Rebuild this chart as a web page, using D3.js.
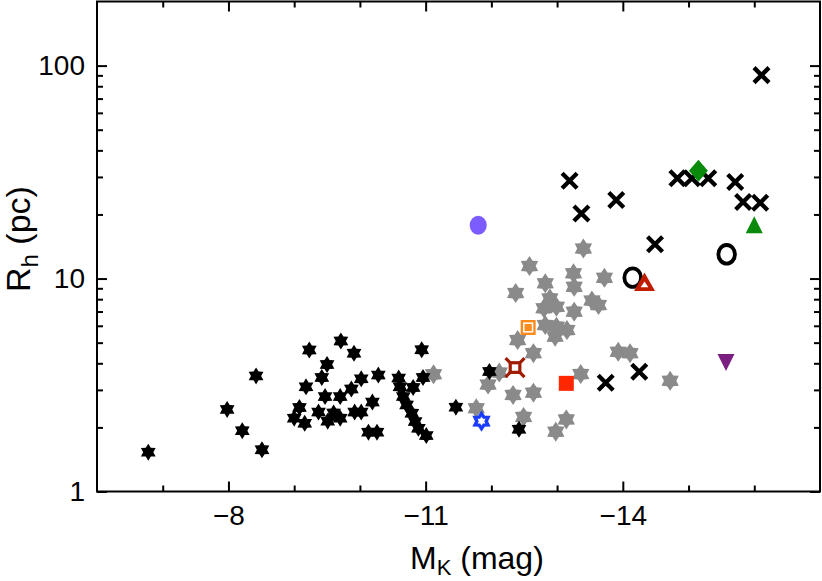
<!DOCTYPE html>
<html>
<head>
<meta charset="utf-8">
<script src="https://cdn.jsdelivr.net/npm/d3@7"></script>
<style>
  body { margin: 0; background: #fff; }
  svg { display: block; font-family: "Liberation Sans", Arial, Helvetica, sans-serif; }
</style>
</head>
<body>
<div id="chart"></div>
<script>
// [M_K (mag), R_h (pc)]
var blackStars = [
  [-6.78,1.53],[-7.98,2.43],[-8.21,1.93],[-8.42,3.49],[-8.51,1.57],[-9.00,2.21],
  [-9.08,2.48],[-9.16,2.09],[-9.18,3.10],[-9.23,4.62],[-9.37,2.36],[-9.42,3.43],
  [-9.50,3.95],[-9.47,2.79],[-9.51,2.14],[-9.60,2.34],[-9.70,2.21],[-9.70,2.79],
  [-9.71,5.09],[-9.87,3.03],[-9.91,4.46],[-9.92,2.36],[-10.02,3.38],[-10.02,2.36],
  [-10.19,2.63],[-10.13,1.90],[-10.26,1.90],[-10.28,3.52],[-10.59,3.41],[-10.61,3.10],
  [-10.66,2.79],[-10.71,2.55],[-10.79,2.33],[-10.81,3.08],[-10.84,2.13],[-10.89,1.98],
  [-10.94,4.63],[-10.96,3.43],[-11.01,1.83],[-11.46,2.49],[-11.97,3.66],[-12.42,1.96]
];
var grayStars = [
  [-11.12,3.55],[-11.77,2.46],[-11.95,3.18],[-12.12,3.62],[-12.33,2.84],[-12.37,8.55],
  [-12.40,5.14],[-12.49,2.24],[-12.58,11.45],[-12.64,4.46],[-12.64,2.91],[-12.80,7.25],
  [-12.82,9.50],[-12.82,6.05],[-12.89,8.07],[-12.97,5.33],[-12.99,7.37],[-12.99,5.94],
  [-12.98,1.91],[-13.14,2.18],[-13.15,5.73],[-13.25,10.58],[-13.26,9.15],[-13.26,6.99],
  [-13.36,3.56],[-13.40,13.83],[-13.53,7.88],[-13.63,7.51],[-13.72,10.08],[-13.93,4.53],
  [-14.11,4.46],[-14.72,3.31]
];
var crosses = [
  [-13.19,28.8],[-13.37,20.2],[-13.90,23.4],[-14.49,14.5],[-14.83,29.6],[-15.05,29.6],
  [-15.30,29.6],[-15.71,28.4],[-15.83,22.9],[-16.09,22.7],[-16.11,90.2],[-13.74,3.24],
  [-14.25,3.65]
];
var openCircles = [[-14.15,10.1],[-15.58,13.0]];
var purpleEllipse = [[-11.80,17.8]];
var orangeSquare = [[-12.56,5.89]];
var brownCrossSquare = [[-12.36,3.82]];
var redSquare = [[-13.14,3.22]];
var blueStar = [[-11.85,2.14]];
var redTriangle = [[-14.33,9.53]];
var greenDiamond = [[-15.15,32.1]];
var greenTriangle = [[-16.00,17.8]];
var purpleDownTriangle = [[-15.57,4.06]];

var xMajor = [-8, -11, -14];
var xMinor = [-7, -9, -10, -12, -13, -15, -16];
var yMajor = [1, 10, 100];
var yMinor = [2,3,4,5,6,7,8,9,20,30,40,50,60,70,80,90];

var cfg = { width: 822, height: 581, left: 97, right: 820, top: 1.5, bottom: 491.5 };

var x = d3.scaleLinear().domain([-6, -17]).range([cfg.left, cfg.right]);
var y = d3.scaleLog().domain([1, 200]).range([cfg.bottom, cfg.top]);

var svg = d3.select("#chart").append("svg")
    .attr("width", cfg.width)
    .attr("height", cfg.height);

function starPath(R, k) {
  var pts = [];
  for (var i = 0; i < 12; i++) {
    var a = (-90 + i * 30) * Math.PI / 180;
    var r = i % 2 === 0 ? R : R * k;
    pts.push([r * Math.cos(a), r * Math.sin(a)]);
  }
  return "M" + pts.map(function (p) { return p[0].toFixed(2) + "," + p[1].toFixed(2); }).join("L") + "Z";
}

function place(d) { return "translate(" + x(d[0]) + "," + y(d[1]) + ")"; }

function drawAxes() {
  var minus = function (d) { return "\u2212" + Math.abs(d); };

  svg.append("g").attr("transform", "translate(0," + cfg.bottom + ")")
      .call(d3.axisBottom(x).tickValues(xMajor).tickSize(-10).tickPadding(14).tickFormat(minus));
  svg.append("g").attr("transform", "translate(0," + cfg.bottom + ")")
      .call(d3.axisBottom(x).tickValues(xMinor).tickSize(-6).tickFormat(""));
  svg.append("g").attr("transform", "translate(0," + cfg.top + ")")
      .call(d3.axisTop(x).tickValues(xMajor).tickSize(-10).tickFormat(""));
  svg.append("g").attr("transform", "translate(0," + cfg.top + ")")
      .call(d3.axisTop(x).tickValues(xMinor).tickSize(-6).tickFormat(""));

  svg.append("g").attr("transform", "translate(" + cfg.left + ",0)")
      .call(d3.axisLeft(y).tickValues(yMajor).tickSize(-10).tickPadding(12).tickFormat(d3.format("d")));
  svg.append("g").attr("transform", "translate(" + cfg.left + ",0)")
      .call(d3.axisLeft(y).tickValues(yMinor).tickSize(-6).tickFormat(""));
  svg.append("g").attr("transform", "translate(" + cfg.right + ",0)")
      .call(d3.axisRight(y).tickValues(yMajor).tickSize(-10).tickFormat(""));
  svg.append("g").attr("transform", "translate(" + cfg.right + ",0)")
      .call(d3.axisRight(y).tickValues(yMinor).tickSize(-6).tickFormat(""));

  svg.selectAll(".domain").remove();
  svg.selectAll(".tick line").attr("stroke", "#000").attr("stroke-width", 2);
  svg.selectAll(".tick text")
      .attr("fill", "#000")
      .style("font-size", "28px")
      .style("font-family", "'Liberation Sans', Arial, sans-serif");

  svg.append("rect")
      .attr("x", cfg.left).attr("y", cfg.top)
      .attr("width", cfg.right - cfg.left).attr("height", cfg.bottom - cfg.top)
      .attr("fill", "none").attr("stroke", "#000").attr("stroke-width", 2);

  var xt = svg.append("text").attr("x", 410).attr("y", 569)
      .style("font-size", "32px").attr("fill", "#000");
  xt.append("tspan").text("M");
  xt.append("tspan").attr("dy", 6).style("font-size", "22px").text("K");
  xt.append("tspan").attr("dy", -6).text(" (mag)");

  var yt = svg.append("text").attr("transform", "translate(30,292) rotate(-90)")
      .style("font-size", "34px").attr("fill", "#000");
  yt.append("tspan").text("R");
  yt.append("tspan").attr("dy", 8).style("font-size", "24px").text("h");
  yt.append("tspan").attr("dy", -8).text(" (pc)");
}

drawAxes();

var marks = svg.append("g");

marks.selectAll(".gray").data(grayStars).enter().append("path")
    .attr("class", "gray")
    .attr("d", starPath(10, 0.62))
    .attr("transform", place)
    .attr("fill", "#8a8a8a");

marks.selectAll(".black").data(blackStars).enter().append("path")
    .attr("class", "black")
    .attr("d", starPath(8.5, 0.6))
    .attr("transform", place)
    .attr("fill", "#000");

marks.selectAll(".cross").data(crosses).enter().append("path")
    .attr("class", "cross")
    .attr("d", "M-7.5,-7.5L7.5,7.5M-7.5,7.5L7.5,-7.5")
    .attr("transform", place)
    .attr("fill", "none").attr("stroke", "#000").attr("stroke-width", 4.3);

marks.selectAll(".ocirc").data(openCircles).enter().append("ellipse")
    .attr("class", "ocirc")
    .attr("rx", 8.3).attr("ry", 9.3)
    .attr("transform", place)
    .attr("fill", "none").attr("stroke", "#000").attr("stroke-width", 3.8);

marks.selectAll(".pell").data(purpleEllipse).enter().append("ellipse")
    .attr("rx", 8.5).attr("ry", 9.5)
    .attr("transform", place)
    .attr("fill", "#7d5cff");

var og = marks.selectAll(".osq").data(orangeSquare).enter().append("g")
    .attr("transform", place);
og.append("rect").attr("x", -6.3).attr("y", -6.3).attr("width", 12.6).attr("height", 12.6)
    .attr("fill", "#fff").attr("stroke", "#ff8a1c").attr("stroke-width", 2.4);
og.append("rect").attr("x", -3.6).attr("y", -3.6).attr("width", 7.2).attr("height", 7.2)
    .attr("fill", "#ff8a1c");

var bg = marks.selectAll(".bsq").data(brownCrossSquare).enter().append("g")
    .attr("transform", place);
bg.append("path").attr("d", "M-9.5,-9.5L-4.5,-4.5M9.5,-9.5L4.5,-4.5M-9.5,9.5L-4.5,4.5M9.5,9.5L4.5,4.5")
    .attr("stroke", "#a01c00").attr("stroke-width", 3.2);
bg.append("rect").attr("x", -4.8).attr("y", -4.8).attr("width", 9.6).attr("height", 9.6)
    .attr("fill", "#fff").attr("stroke", "#a01c00").attr("stroke-width", 3.2);

marks.selectAll(".rsq").data(redSquare).enter().append("rect")
    .attr("x", -7.5).attr("y", -7.5).attr("width", 15).attr("height", 15)
    .attr("transform", place)
    .attr("fill", "#ff2600");

marks.selectAll(".bstar").data(blueStar).enter().append("path")
    .attr("d", starPath(7.5, 0.62))
    .attr("transform", place)
    .attr("fill", "#fff").attr("stroke", "#1a3cff").attr("stroke-width", 3.4);

var rg = marks.selectAll(".rtri").data(redTriangle).enter().append("g")
    .attr("transform", place);
rg.append("path").attr("d", "M0,-10.5L10.5,8L-10.5,8Z").attr("fill", "#c01d00");
rg.append("path").attr("d", "M0,-1.5L3.8,4.2L-3.8,4.2Z").attr("fill", "#fff");

marks.selectAll(".gdia").data(greenDiamond).enter().append("path")
    .attr("d", "M0,-11L9.5,0L0,11L-9.5,0Z")
    .attr("transform", place)
    .attr("fill", "#0a8a0a");

marks.selectAll(".gtri").data(greenTriangle).enter().append("path")
    .attr("d", "M0,-9L8.5,8L-8.5,8Z")
    .attr("transform", place)
    .attr("fill", "#0a8a0a");

marks.selectAll(".ptri").data(purpleDownTriangle).enter().append("path")
    .attr("d", "M-8.5,-8L8.5,-8L0,9Z")
    .attr("transform", place)
    .attr("fill", "#7a1e80");
</script>
</body>
</html>
